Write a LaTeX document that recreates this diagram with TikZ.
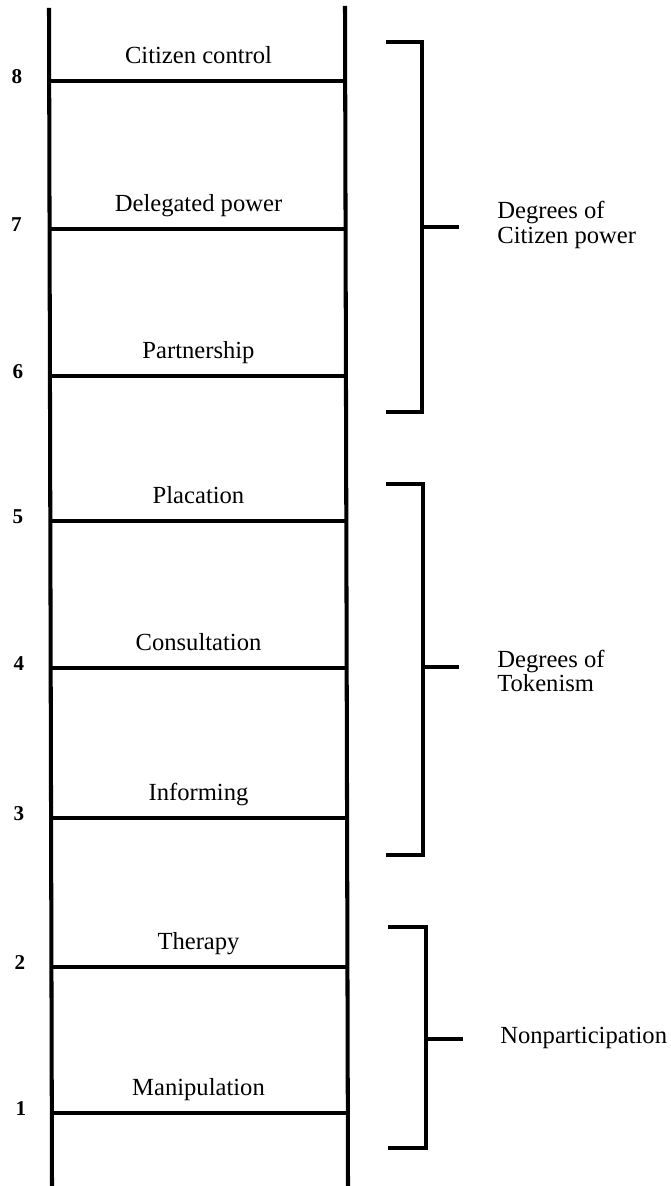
\documentclass[tikz,border=0pt]{standalone}
\usepackage{fontspec}
\setmainfont{Liberation Serif}
\usepackage{xcolor}
\usepackage{tikz}
\definecolor{LadInk}{HTML}{000000}
\newcommand\ladfont{\fontsize{14}{14}\selectfont}
\tikzset{
  rail/.style={LadInk,line width=2.3pt},
  rung/.style={LadInk,line width=2.2pt},
  bracket/.style={LadInk,line width=2.2pt},
  runglabel/.style={anchor=base,inner sep=0pt,text=LadInk,font=\ladfont},
  rungnum/.style={anchor=base,inner sep=0pt,text=LadInk,font=\fontsize{12}{12}\selectfont\bfseries},
  grouplabel/.style={anchor=west,inner sep=0pt,align=left,text=LadInk,font=\ladfont}
}

\begin{document}
\begin{tikzpicture}[x=1cm,y=1cm]
\path[use as bounding box] (0,0) rectangle (13.42,23.72);
% rails
\draw[rail] (0.98,23.56) -- (1.04,0);
\draw[rail] (6.90,23.60) -- (6.96,0);
% rungs, names and numbers
\foreach \n/\y/\nx/\t in {8/22.10/0.34/Citizen control,7/19.14/0.33/Delegated power,
  6/16.20/0.36/Partnership,5/13.30/0.36/Placation,4/10.36/0.38/Consultation,
  3/7.36/0.38/Informing,2/4.38/0.40/Therapy,1/1.46/0.42/Manipulation}{
  \draw[rung] (1.01,\y) -- (6.93,\y);
  \node[runglabel] (lab\n) at (3.97,\y+0.34) {\t};
  \node[rungnum] (num\n) at (\nx,\y-0.06) {\n};
}
% brackets
\draw[bracket] (7.72,22.88) -- (8.44,22.88) -- (8.44,15.48) -- (7.72,15.48);
\draw[bracket] (8.44,19.18) -- (9.18,19.18);
\node[grouplabel] (grpA) at (9.94,19.22) {Degrees of\\Citizen power};
\draw[bracket] (7.72,14.04) -- (8.46,14.04) -- (8.46,6.62) -- (7.72,6.62);
\draw[bracket] (8.46,10.38) -- (9.18,10.38);
\node[grouplabel] (grpB) at (9.94,10.30) {Degrees of\\Tokenism};
\draw[bracket] (7.76,5.18) -- (8.52,5.18) -- (8.52,0.76) -- (7.76,0.76);
\draw[bracket] (8.52,2.94) -- (9.26,2.94);
\node[grouplabel] (grpC) at (10.00,2.96) {Nonparticipation};
\end{tikzpicture}
\end{document}
